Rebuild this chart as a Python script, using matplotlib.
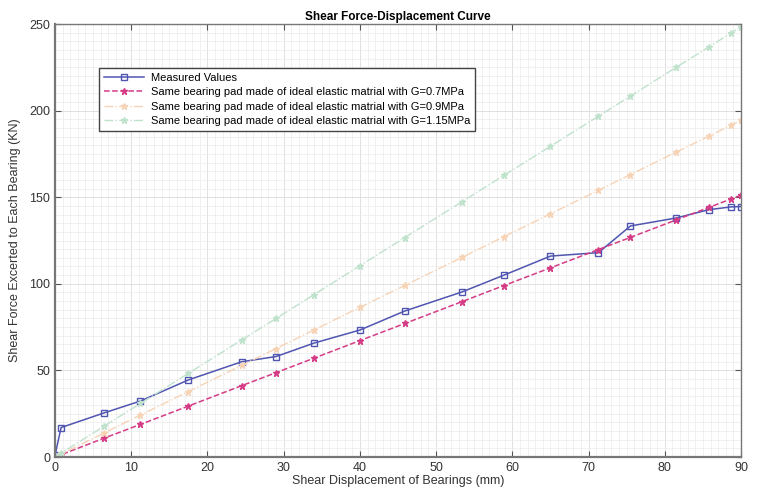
import matplotlib
matplotlib.use('Agg')
from matplotlib import pyplot as plt
from matplotlib.ticker import MultipleLocator

plt.rcParams['font.family'] = ['Liberation Sans', 'DejaVu Sans']

# displacement (mm)
disp = [0, 0.8, 6.4, 11.2, 17.5, 24.5, 29, 34, 40, 45.9, 53.4, 58.9, 65, 71.3, 75.5, 81.5, 85.8, 88.7, 90]
# measured shear force (kN)
measured = [1, 17, 25.4, 32.3, 44.5, 55, 58, 65.8, 73.3, 84.3, 95.3, 105, 116, 118, 133.4, 138, 142.8, 144.4, 144.6]
# ideal elastic pad, G = 0.7 / 0.9 / 1.15 MPa
g07 = [0, 1.3, 10.8, 18.8, 29.4, 41.2, 48.7, 57.1, 67.2, 77.1, 89.7, 99, 109.2, 119.8, 126.8, 136.9, 144.1, 149, 151.2]
g09 = [0, 1.7, 13.8, 24.2, 37.8, 52.9, 62.6, 73.4, 86.4, 99.1, 115.3, 127.2, 140.4, 154, 163.1, 176, 185.3, 191.6, 194.4]
g115 = [0, 2.2, 17.7, 30.9, 48.3, 67.6, 80, 93.8, 110.4, 126.7, 147.4, 162.6, 179.4, 196.8, 208.4, 225, 236.8, 244.8, 248.4]

labels = ['Measured Values',
          'Same bearing pad made of ideal elastic matrial with G=0.7MPa',
          'Same bearing pad made of ideal elastic matrial with G=0.9MPa',
          'Same bearing pad made of ideal elastic matrial with G=1.15MPa']

fig = plt.figure(figsize=(7.59, 4.95), dpi=100)
ax = fig.add_axes([55/759, 38/495, 686/759, 433/495])

ax.plot(disp, measured, '-s', color='#4f55b0', lw=1.1, ms=4.5, mfc='none', mew=1.0, label=labels[0])
ax.plot(disp, g07, '--*', color='#d63c86', lw=1.1, ms=5, label=labels[1])
ax.plot(disp, g09, '-.*', color='#f7d3b6', lw=1.0, ms=5, label=labels[2])
ax.plot(disp, g115, '-.*', color='#bfe2cc', lw=1.0, ms=5, label=labels[3])

ax.set_xlim(0, 90)
ax.set_ylim(0, 250)
ax.xaxis.set_major_locator(MultipleLocator(10))
ax.yaxis.set_major_locator(MultipleLocator(50))
ax.xaxis.set_minor_locator(MultipleLocator(1))
ax.yaxis.set_minor_locator(MultipleLocator(5))
ax.grid(which='major', color='#dcdcdc', lw=0.6)
ax.grid(which='minor', color='#ececec', lw=0.5)
ax.set_axisbelow(True)
ax.tick_params(which='major', direction='in', top=True, right=True, length=4, color='#555555', labelsize=9, labelcolor='#333333')
ax.tick_params(which='minor', length=0)
for s in ax.spines.values():
    s.set_color('#777777')
    s.set_linewidth(1.0)
ax.spines['left'].set_linewidth(1.6)
ax.spines['bottom'].set_linewidth(1.6)

ax.set_title('Shear Force-Displacement Curve', fontsize=8.5, fontweight='bold', pad=3)
ax.set_xlabel('Shear Displacement of Bearings (mm)', fontsize=9, color='#333333', labelpad=1)
ax.set_ylabel('Shear Force Excerted to Each Bearing (KN)', fontsize=9, color='#333333', labelpad=6)

leg = ax.legend(loc='upper left', bbox_to_anchor=(0.056, 0.912), fontsize=8, frameon=True,
                fancybox=False, edgecolor='#444444', framealpha=1, handlelength=3.6,
                borderpad=0.45, labelspacing=0.4, handletextpad=0.6)
leg.get_frame().set_linewidth(1.0)

fig.savefig('out.png', dpi=100)
